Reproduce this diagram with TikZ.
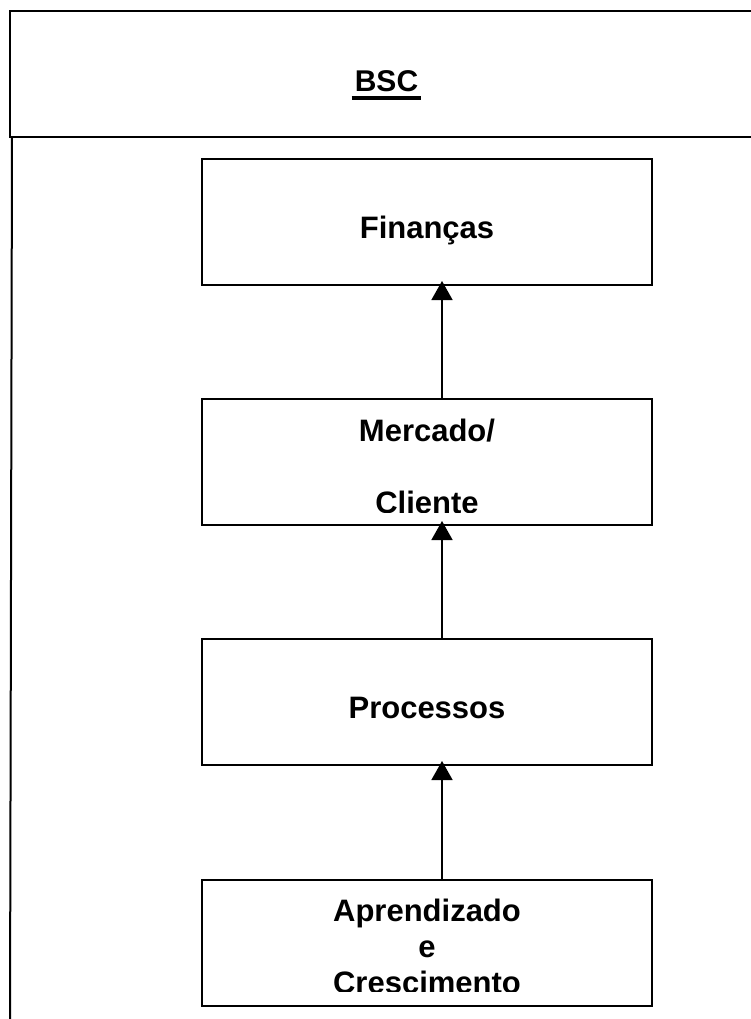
\documentclass[tikz,border=0pt]{standalone}
\usepackage{fontspec}
\setmainfont{Liberation Sans}
\usetikzlibrary{arrows.meta}
\begin{document}
\begin{tikzpicture}[x=1pt,y=-1pt,
  frame/.style={draw,line width=2pt,inner sep=0pt},
  box/.style={frame,minimum width=450pt,minimum height=126pt},
  lbl/.style={anchor=base,inner sep=0pt,font=\fontsize{31}{36}\selectfont\bfseries},
  arr/.style={line width=1.5pt,-{Triangle[length=19pt,width=21pt]},shorten >=-5pt}]
\clip (0,0) rectangle (751,1019);
% outer title box
\node[frame,minimum width=753pt,minimum height=126pt] (bsc) at (386.5,74) {};
\node[anchor=base,inner sep=0pt,font=\fontsize{30}{36}\selectfont\bfseries] (bsct) at (386.5,92) {BSC};
\draw[line width=4pt] ([shift={(-3,6)}]bsct.base west) -- ([shift={(3,6)}]bsct.base east);
\coordinate (lb) at (10,1022);
\draw[line width=2pt] ([shift={(3,0)}]bsc.south west) -- (lb);
% boxes
\node[box] (fin) at (427,222) {};
\node[box] (mer) at (427,462) {};
\node[box] (pro) at (427,702) {};
\node[box] (apr) at (427,942.5) {};
% labels
\node[lbl] at (427,238) {Finanças};
\node[lbl] at (427,718) {Processos};
\begin{scope}
\clip ([shift={(0,-14)}]mer.south west) rectangle (mer.north east);
\node[lbl] at (427,441) {Mercado/};
\node[lbl] at (427,513) {Cliente};
\end{scope}
\begin{scope}
\clip ([shift={(0,-15)}]apr.south west) rectangle (apr.north east);
\node[lbl] at (427,921) {Aprendizado};
\node[lbl] at (427,957) {e};
\node[lbl] at (427,993) {Crescimento};
\end{scope}
% arrows
\draw[arr] ([xshift=15pt]mer.north) -- ([xshift=15pt]fin.south);
\draw[arr] ([xshift=15pt]pro.north) -- ([xshift=15pt]mer.south);
\draw[arr] ([xshift=15pt]apr.north) -- ([xshift=15pt]pro.south);
\end{tikzpicture}
\end{document}
